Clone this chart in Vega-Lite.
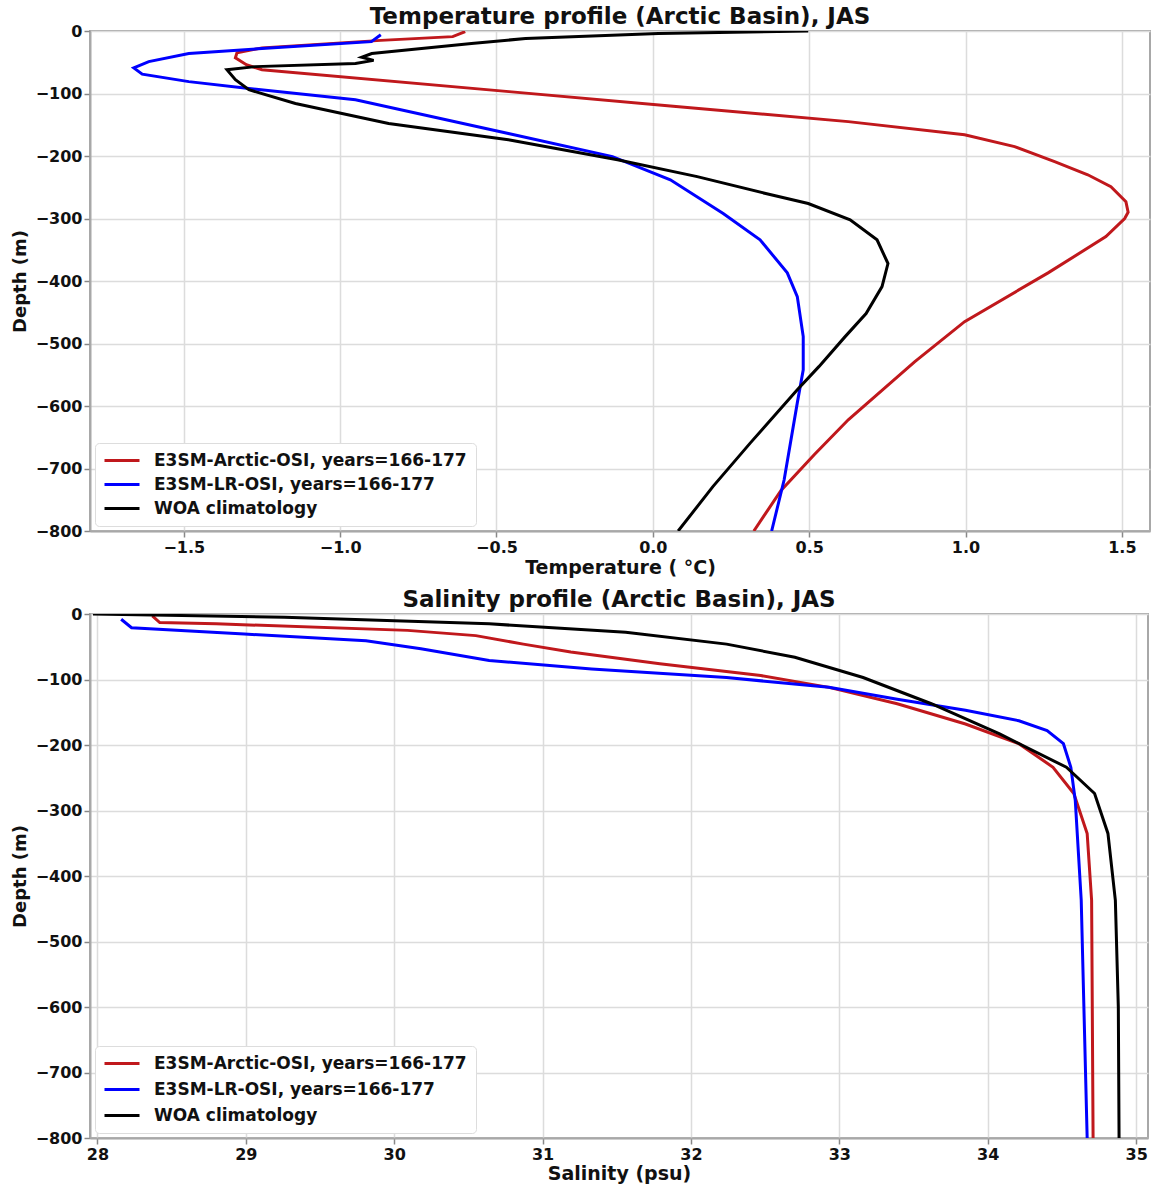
{
  "$schema": "https://vega.github.io/schema/vega-lite/v6.json",
  "padding": {"left": 10, "top": 5, "right": 0, "bottom": 0},
  "background": "white",
  "spacing": 10,
  "datasets": {
    "temp": [
      {"series": "E3SM-Arctic-OSI, years=166-177", "value": -0.60, "depth": -1},
      {"series": "E3SM-Arctic-OSI, years=166-177", "value": -0.64, "depth": -9},
      {"series": "E3SM-Arctic-OSI, years=166-177", "value": -0.87, "depth": -15},
      {"series": "E3SM-Arctic-OSI, years=166-177", "value": -1.25, "depth": -27},
      {"series": "E3SM-Arctic-OSI, years=166-177", "value": -1.33, "depth": -35},
      {"series": "E3SM-Arctic-OSI, years=166-177", "value": -1.335, "depth": -43},
      {"series": "E3SM-Arctic-OSI, years=166-177", "value": -1.30, "depth": -54},
      {"series": "E3SM-Arctic-OSI, years=166-177", "value": -1.25, "depth": -62},
      {"series": "E3SM-Arctic-OSI, years=166-177", "value": -0.46, "depth": -97},
      {"series": "E3SM-Arctic-OSI, years=166-177", "value": 0.056, "depth": -120},
      {"series": "E3SM-Arctic-OSI, years=166-177", "value": 0.625, "depth": -145},
      {"series": "E3SM-Arctic-OSI, years=166-177", "value": 0.997, "depth": -166},
      {"series": "E3SM-Arctic-OSI, years=166-177", "value": 1.157, "depth": -185},
      {"series": "E3SM-Arctic-OSI, years=166-177", "value": 1.285, "depth": -209},
      {"series": "E3SM-Arctic-OSI, years=166-177", "value": 1.391, "depth": -230},
      {"series": "E3SM-Arctic-OSI, years=166-177", "value": 1.465, "depth": -249},
      {"series": "E3SM-Arctic-OSI, years=166-177", "value": 1.513, "depth": -273},
      {"series": "E3SM-Arctic-OSI, years=166-177", "value": 1.52, "depth": -290},
      {"series": "E3SM-Arctic-OSI, years=166-177", "value": 1.509, "depth": -300},
      {"series": "E3SM-Arctic-OSI, years=166-177", "value": 1.449, "depth": -329},
      {"series": "E3SM-Arctic-OSI, years=166-177", "value": 1.264, "depth": -387},
      {"series": "E3SM-Arctic-OSI, years=166-177", "value": 0.997, "depth": -465},
      {"series": "E3SM-Arctic-OSI, years=166-177", "value": 0.838, "depth": -529},
      {"series": "E3SM-Arctic-OSI, years=166-177", "value": 0.625, "depth": -622},
      {"series": "E3SM-Arctic-OSI, years=166-177", "value": 0.516, "depth": -678},
      {"series": "E3SM-Arctic-OSI, years=166-177", "value": 0.41, "depth": -735},
      {"series": "E3SM-Arctic-OSI, years=166-177", "value": 0.323, "depth": -800},
      {"series": "E3SM-LR-OSI, years=166-177", "value": -0.87, "depth": -6},
      {"series": "E3SM-LR-OSI, years=166-177", "value": -0.90, "depth": -17},
      {"series": "E3SM-LR-OSI, years=166-177", "value": -1.25, "depth": -28},
      {"series": "E3SM-LR-OSI, years=166-177", "value": -1.484, "depth": -36},
      {"series": "E3SM-LR-OSI, years=166-177", "value": -1.612, "depth": -49},
      {"series": "E3SM-LR-OSI, years=166-177", "value": -1.66, "depth": -59},
      {"series": "E3SM-LR-OSI, years=166-177", "value": -1.633, "depth": -69},
      {"series": "E3SM-LR-OSI, years=166-177", "value": -1.484, "depth": -81},
      {"series": "E3SM-LR-OSI, years=166-177", "value": -1.292, "depth": -92},
      {"series": "E3SM-LR-OSI, years=166-177", "value": -0.951, "depth": -110},
      {"series": "E3SM-LR-OSI, years=166-177", "value": -0.462, "depth": -164},
      {"series": "E3SM-LR-OSI, years=166-177", "value": -0.129, "depth": -201},
      {"series": "E3SM-LR-OSI, years=166-177", "value": 0.056, "depth": -238},
      {"series": "E3SM-LR-OSI, years=166-177", "value": 0.225, "depth": -292},
      {"series": "E3SM-LR-OSI, years=166-177", "value": 0.343, "depth": -334},
      {"series": "E3SM-LR-OSI, years=166-177", "value": 0.430, "depth": -387},
      {"series": "E3SM-LR-OSI, years=166-177", "value": 0.462, "depth": -425},
      {"series": "E3SM-LR-OSI, years=166-177", "value": 0.481, "depth": -489},
      {"series": "E3SM-LR-OSI, years=166-177", "value": 0.481, "depth": -542},
      {"series": "E3SM-LR-OSI, years=166-177", "value": 0.462, "depth": -595},
      {"series": "E3SM-LR-OSI, years=166-177", "value": 0.420, "depth": -718},
      {"series": "E3SM-LR-OSI, years=166-177", "value": 0.38, "depth": -800},
      {"series": "WOA climatology", "value": 0.497, "depth": 0},
      {"series": "WOA climatology", "value": 0.018, "depth": -4},
      {"series": "WOA climatology", "value": -0.407, "depth": -12},
      {"series": "WOA climatology", "value": -0.58, "depth": -20},
      {"series": "WOA climatology", "value": -0.899, "depth": -36},
      {"series": "WOA climatology", "value": -0.931, "depth": -42},
      {"series": "WOA climatology", "value": -0.893, "depth": -47},
      {"series": "WOA climatology", "value": -0.951, "depth": -52},
      {"series": "WOA climatology", "value": -1.271, "depth": -57},
      {"series": "WOA climatology", "value": -1.362, "depth": -62},
      {"series": "WOA climatology", "value": -1.335, "depth": -78},
      {"series": "WOA climatology", "value": -1.292, "depth": -94},
      {"series": "WOA climatology", "value": -1.143, "depth": -116},
      {"series": "WOA climatology", "value": -0.845, "depth": -148},
      {"series": "WOA climatology", "value": -0.462, "depth": -174},
      {"series": "WOA climatology", "value": -0.113, "depth": -206},
      {"series": "WOA climatology", "value": 0.142, "depth": -233},
      {"series": "WOA climatology", "value": 0.361, "depth": -260},
      {"series": "WOA climatology", "value": 0.497, "depth": -276},
      {"series": "WOA climatology", "value": 0.631, "depth": -302},
      {"series": "WOA climatology", "value": 0.717, "depth": -334},
      {"series": "WOA climatology", "value": 0.752, "depth": -372},
      {"series": "WOA climatology", "value": 0.733, "depth": -409},
      {"series": "WOA climatology", "value": 0.682, "depth": -452},
      {"series": "WOA climatology", "value": 0.615, "depth": -489},
      {"series": "WOA climatology", "value": 0.531, "depth": -537},
      {"series": "WOA climatology", "value": 0.462, "depth": -574},
      {"series": "WOA climatology", "value": 0.312, "depth": -659},
      {"series": "WOA climatology", "value": 0.192, "depth": -729},
      {"series": "WOA climatology", "value": 0.081, "depth": -800}
    ],
    "sal": [
      {"series": "E3SM-Arctic-OSI, years=166-177", "value": 28.37, "depth": -3},
      {"series": "E3SM-Arctic-OSI, years=166-177", "value": 28.42, "depth": -13},
      {"series": "E3SM-Arctic-OSI, years=166-177", "value": 28.80, "depth": -15},
      {"series": "E3SM-Arctic-OSI, years=166-177", "value": 30.09, "depth": -25},
      {"series": "E3SM-Arctic-OSI, years=166-177", "value": 30.55, "depth": -33},
      {"series": "E3SM-Arctic-OSI, years=166-177", "value": 30.87, "depth": -46},
      {"series": "E3SM-Arctic-OSI, years=166-177", "value": 31.19, "depth": -58},
      {"series": "E3SM-Arctic-OSI, years=166-177", "value": 31.79, "depth": -76},
      {"series": "E3SM-Arctic-OSI, years=166-177", "value": 32.47, "depth": -94},
      {"series": "E3SM-Arctic-OSI, years=166-177", "value": 32.93, "depth": -112},
      {"series": "E3SM-Arctic-OSI, years=166-177", "value": 33.39, "depth": -137},
      {"series": "E3SM-Arctic-OSI, years=166-177", "value": 33.85, "depth": -168},
      {"series": "E3SM-Arctic-OSI, years=166-177", "value": 34.21, "depth": -198},
      {"series": "E3SM-Arctic-OSI, years=166-177", "value": 34.44, "depth": -234},
      {"series": "E3SM-Arctic-OSI, years=166-177", "value": 34.58, "depth": -274},
      {"series": "E3SM-Arctic-OSI, years=166-177", "value": 34.67, "depth": -335},
      {"series": "E3SM-Arctic-OSI, years=166-177", "value": 34.70, "depth": -437},
      {"series": "E3SM-Arctic-OSI, years=166-177", "value": 34.71, "depth": -800},
      {"series": "E3SM-LR-OSI, years=166-177", "value": 28.16, "depth": -8},
      {"series": "E3SM-LR-OSI, years=166-177", "value": 28.23, "depth": -21},
      {"series": "E3SM-LR-OSI, years=166-177", "value": 28.99, "depth": -30.5},
      {"series": "E3SM-LR-OSI, years=166-177", "value": 29.81, "depth": -41},
      {"series": "E3SM-LR-OSI, years=166-177", "value": 30.18, "depth": -53},
      {"series": "E3SM-LR-OSI, years=166-177", "value": 30.64, "depth": -71},
      {"series": "E3SM-LR-OSI, years=166-177", "value": 31.33, "depth": -84},
      {"series": "E3SM-LR-OSI, years=166-177", "value": 32.24, "depth": -97},
      {"series": "E3SM-LR-OSI, years=166-177", "value": 32.93, "depth": -112},
      {"series": "E3SM-LR-OSI, years=166-177", "value": 33.39, "depth": -130},
      {"series": "E3SM-LR-OSI, years=166-177", "value": 33.85, "depth": -147},
      {"series": "E3SM-LR-OSI, years=166-177", "value": 34.21, "depth": -163},
      {"series": "E3SM-LR-OSI, years=166-177", "value": 34.40, "depth": -178},
      {"series": "E3SM-LR-OSI, years=166-177", "value": 34.51, "depth": -198},
      {"series": "E3SM-LR-OSI, years=166-177", "value": 34.56, "depth": -234},
      {"series": "E3SM-LR-OSI, years=166-177", "value": 34.59, "depth": -285},
      {"series": "E3SM-LR-OSI, years=166-177", "value": 34.63, "depth": -437},
      {"series": "E3SM-LR-OSI, years=166-177", "value": 34.67, "depth": -800},
      {"series": "WOA climatology", "value": 27.97, "depth": 0},
      {"series": "WOA climatology", "value": 29.26, "depth": -5},
      {"series": "WOA climatology", "value": 30.64, "depth": -15},
      {"series": "WOA climatology", "value": 31.56, "depth": -28},
      {"series": "WOA climatology", "value": 32.24, "depth": -46},
      {"series": "WOA climatology", "value": 32.70, "depth": -66},
      {"series": "WOA climatology", "value": 33.16, "depth": -97},
      {"series": "WOA climatology", "value": 33.62, "depth": -137},
      {"series": "WOA climatology", "value": 34.08, "depth": -183},
      {"series": "WOA climatology", "value": 34.53, "depth": -234},
      {"series": "WOA climatology", "value": 34.72, "depth": -274},
      {"series": "WOA climatology", "value": 34.81, "depth": -335},
      {"series": "WOA climatology", "value": 34.86, "depth": -437},
      {"series": "WOA climatology", "value": 34.88, "depth": -600},
      {"series": "WOA climatology", "value": 34.885, "depth": -800}
    ]
  },
  "config": {
    "font": "DejaVu Sans",
    "view": {"stroke": "#a8a8a8", "strokeWidth": 2},
    "axis": {
      "labelFont": "DejaVu Sans", "labelFontWeight": "bold", "labelFontSize": 16, "labelColor": "#111",
      "titleFont": "DejaVu Sans", "titleFontWeight": "bold", "titleFontSize": 18, "titleColor": "#111",
      "tickColor": "#888", "tickSize": 6, "tickWidth": 1.5, "labelPadding": 2,
      "domainColor": "#a8a8a8", "domainWidth": 2,
      "gridColor": "#dcdcdc", "gridWidth": 1.5
    },
    "axisX": {"titleFontSize": 19},
    "title": {"font": "DejaVu Sans", "fontWeight": "bold", "fontSize": 23, "color": "#111", "offset": -6},
    "legend": {
      "orient": "bottom-left", "offset": 5,
      "fillColor": "white", "strokeColor": "#dddddd", "cornerRadius": 4, "padding": 9,
      "labelFont": "DejaVu Sans", "labelFontWeight": "bold", "labelFontSize": 17, "labelColor": "#111",
      "symbolType": "M-1.6,0H5.4", "symbolSize": 100, "symbolStrokeWidth": 3, "labelOffset": 33, "rowPadding": 6, "labelLimit": 400
    }
  },
  "resolve": {"legend": {"color": "independent"}, "scale": {"x": "independent", "y": "independent", "color": "independent"}},
  "vconcat": [
    {
      "title": "Temperature profile (Arctic Basin), JAS",
      "width": 1060, "height": 500,
      "data": {"name": "temp"},
      "mark": {"type": "line", "strokeWidth": 3, "clip": true},
      "encoding": {
        "x": {"field": "value", "type": "quantitative", "scale": {"domain": [-1.8, 1.59], "nice": false, "zero": false},
              "axis": {"title": "Temperature ( °C)", "values": [-1.5, -1, -0.5, 0, 0.5, 1, 1.5], "format": ".1f", "titlePadding": 3}},
        "y": {"field": "depth", "type": "quantitative", "scale": {"domain": [-800, 0], "nice": false},
              "axis": {"title": "Depth (m)", "values": [-800, -700, -600, -500, -400, -300, -200, -100, 0], "format": "d", "titlePadding": 6}},
        "color": {"field": "series", "type": "nominal",
                  "scale": {"domain": ["E3SM-Arctic-OSI, years=166-177", "E3SM-LR-OSI, years=166-177", "WOA climatology"], "range": ["#c0181c", "#0000ff", "#000000"]},
                  "legend": {"title": null}},
        "order": {"field": "depth", "sort": "descending"}
      }
    },
    {
      "title": "Salinity profile (Arctic Basin), JAS",
      "width": 1058, "height": 524,
      "data": {"name": "sal"},
      "mark": {"type": "line", "strokeWidth": 3, "clip": true},
      "encoding": {
        "x": {"field": "value", "type": "quantitative", "scale": {"domain": [27.95, 35.08], "nice": false, "zero": false},
              "axis": {"title": "Salinity (psu)", "values": [28, 29, 30, 31, 32, 33, 34, 35], "format": "d", "titlePadding": 2}},
        "y": {"field": "depth", "type": "quantitative", "scale": {"domain": [-800, 0], "nice": false},
              "axis": {"title": "Depth (m)", "values": [-800, -700, -600, -500, -400, -300, -200, -100, 0], "format": "d", "titlePadding": 6}},
        "color": {"field": "series", "type": "nominal",
                  "scale": {"domain": ["E3SM-Arctic-OSI, years=166-177", "E3SM-LR-OSI, years=166-177", "WOA climatology"], "range": ["#c0181c", "#0000ff", "#000000"]},
                  "legend": {"title": null, "rowPadding": 8}},
        "order": {"field": "depth", "sort": "descending"}
      }
    }
  ]
}
